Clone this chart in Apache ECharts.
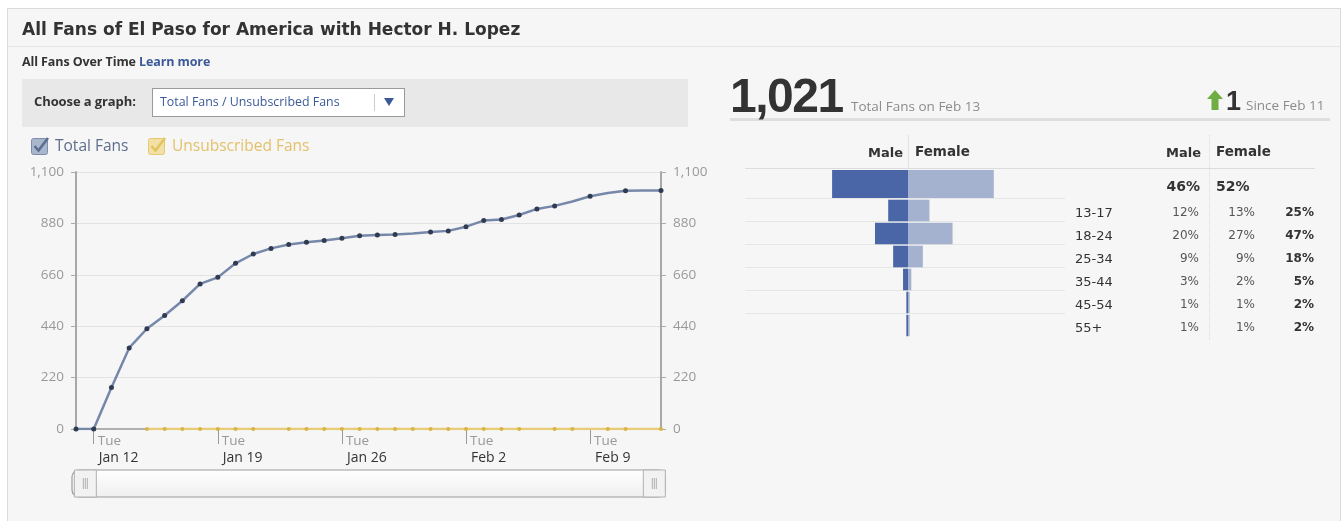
<!DOCTYPE html>
<html>
<head>
<meta charset="utf-8">
<script src="https://cdn.jsdelivr.net/npm/echarts@6/dist/echarts.min.js"></script>
<style>
  html, body { margin: 0; padding: 0; background: #fff; }
  body { width: 1343px; height: 521px; position: relative; overflow: hidden; font-family: "Open Sans", sans-serif; }
  .panel { position: absolute; left: 7px; top: 8px; width: 1334px; height: 520px; background: #f6f6f6; border: 1px solid #dadada; box-sizing: border-box; }
  .t { position: absolute; white-space: nowrap; transform: translateY(-50%); line-height: 1; z-index: 3; }
  .r { transform: translate(-100%, -50%); }
  #chart { position: absolute; left: 0; top: 0; width: 1343px; height: 521px; z-index: 2; }
  .line { position: absolute; z-index: 1; }
</style>
</head>
<body>
<div class="panel"></div>
<div class="line" style="left:8px;top:46px;width:1333px;height:1px;background:#e4e4e4"></div>

<div class="t" style="left:22px;top:29px;font-family:'DejaVu Sans';font-weight:bold;font-size:17px;color:#333">All Fans of El Paso for America with Hector H. Lopez</div>
<div class="t" style="left:22px;top:62px;font-weight:bold;font-size:12.5px;letter-spacing:-0.1px;color:#333">All Fans Over Time <span style="color:#3b5998">Learn more</span></div>

<div class="line" style="left:22px;top:79px;width:666px;height:48px;background:#e8e8e8"></div>
<div class="t" style="left:34px;top:101px;font-weight:bold;font-size:13px;letter-spacing:-0.1px;color:#333">Choose a graph:</div>
<div class="line" style="left:152px;top:88px;width:253px;height:29px;background:#fff;border:1px solid #9a9a9a;box-sizing:border-box;z-index:2"></div>
<div class="t" style="left:160px;top:102px;font-size:12.4px;color:#3b5998">Total Fans / Unsubscribed Fans</div>
<div class="line" style="left:374px;top:94px;width:1px;height:17px;background:#ccc;z-index:3"></div>
<svg style="position:absolute;left:384px;top:98px;z-index:3" width="10" height="9"><path d="M0,0 L10,0 L5,8 Z" fill="#3b5998"/></svg>

<svg style="position:absolute;left:31px;top:136px;z-index:3" width="20" height="20">
  <rect x="0.5" y="2.5" width="16" height="16" rx="2" fill="#aab6cc" stroke="#7d8dab"/>
  <path d="M3.5,10 L7.5,14.5 L17,2" fill="none" stroke="#5b6d8f" stroke-width="2.6"/>
</svg>
<div class="t" style="left:55px;top:146px;font-size:15.5px;color:#5e6e8c">Total Fans</div>
<svg style="position:absolute;left:148px;top:136px;z-index:3" width="20" height="20">
  <rect x="0.5" y="2.5" width="16" height="16" rx="2" fill="#f2e0a6" stroke="#e4c970"/>
  <path d="M3.5,10 L7.5,14.5 L17,2" fill="none" stroke="#e2c35f" stroke-width="2.6"/>
</svg>
<div class="t" style="left:172px;top:146px;font-size:15.5px;color:#e2c168">Unsubscribed Fans</div>

<div class="t" style="left:730px;top:96px;font-family:'Liberation Sans';font-weight:bold;font-size:48px;letter-spacing:-1.5px;color:#333">1,021</div>
<div class="t" style="left:851px;top:107px;font-size:13.5px;color:#8c8c8c">Total Fans on Feb 13</div>
<svg style="position:absolute;left:1207px;top:90px;z-index:3" width="16" height="21"><path d="M8,0 L16,9 L11.5,9 L11.5,20 L4.5,20 L4.5,9 L0,9 Z" fill="#6fae42"/></svg>
<div class="t" style="left:1226px;top:101px;font-family:'Liberation Sans';font-weight:bold;font-size:27px;color:#333">1</div>
<div class="t" style="left:1246px;top:106px;font-size:13.5px;color:#8c8c8c">Since Feb 11</div>
<div class="line" style="left:730px;top:118px;width:600px;height:3px;background:#dedede"></div>

<div class="t r" style="left:903px;top:152px;font-family:'DejaVu Sans';font-weight:bold;font-size:13px;color:#333">Male</div>
<div class="t" style="left:915px;top:152px;font-family:'DejaVu Sans';font-weight:bold;font-size:13.5px;color:#333">Female</div>
<div class="t r" style="left:1201px;top:152px;font-family:'DejaVu Sans';font-weight:bold;font-size:13px;color:#333">Male</div>
<div class="t" style="left:1216px;top:152px;font-family:'DejaVu Sans';font-weight:bold;font-size:13.5px;color:#333">Female</div>
<div class="line" style="left:908px;top:135px;width:1px;height:33px;background:#e2e2e2"></div>
<div class="line" style="left:1209px;top:135px;width:0;height:205px;border-left:1px dotted #dcdcdc"></div>
<div class="line" style="left:745px;top:168px;width:570px;height:1px;background:#dcdcdc"></div>
<div id="rowlines"></div>
<div id="table"></div>

<div id="chart"></div>
<script>
// line chart data (one point per day)
var dates = ['Jan 11', 'Jan 12', 'Jan 13', 'Jan 14', 'Jan 15', 'Jan 16', 'Jan 17', 'Jan 18', 'Jan 19', 'Jan 20',
  'Jan 21', 'Jan 22', 'Jan 23', 'Jan 24', 'Jan 25', 'Jan 26', 'Jan 27', 'Jan 28', 'Jan 29', 'Jan 30',
  'Jan 31', 'Feb 1', 'Feb 2', 'Feb 3', 'Feb 4', 'Feb 5', 'Feb 6', 'Feb 7', 'Feb 8', 'Feb 9',
  'Feb 10', 'Feb 11', 'Feb 12', 'Feb 13'];
var totalFans = [0, 0, 178, 347, 429, 486, 549, 621, 649, 709,
  749, 773, 790, 799, 807, 816, 827, 830, 832, 837,
  843, 848, 866, 892, 897, 916, 942, 955, 974, 996,
  1010, 1020, 1021, 1021];
var unsubscribedFans = [null, null, null, null, 0, 0, 0, 0, 0, 0,
  0, 0, 0, 0, 0, 0, 0, 0, 0, 0,
  0, 0, 0, 0, 0, 0, 0, 0, 0, 0,
  0, 0, 0, 0];
// days drawn without a dot in the picture
var totalNoDot = ['Jan 30', 'Feb 8', 'Feb 10', 'Feb 12'];
var unsubNoDot = ['Jan 22', 'Feb 6', 'Feb 9', 'Feb 12'];
var tickDates = ['Jan 12', 'Jan 19', 'Jan 26', 'Feb 2', 'Feb 9'];

// demographics
var ageGroups = ['13-17', '18-24', '25-34', '35-44', '45-54', '55+'];
var allMale = 46;
var allFemale = 52;
var malePct = [12, 20, 9, 3, 1, 1];
var femalePct = [13, 27, 9, 2, 1, 1];
var totalPct = [25, 47, 18, 5, 2, 2];

var days = ['Sun', 'Mon', 'Tue', 'Wed', 'Thu', 'Fri', 'Sat'];
function isTick(idx, value) {
  return tickDates.indexOf(value !== undefined ? value : dates[idx]) >= 0;
}
function withDots(values, noDot) {
  return values.map(function (v, i) {
    return noDot.indexOf(dates[i]) >= 0 ? { value: v, symbol: 'none' } : v;
  });
}

// table text and row lines
var tableHtml = '';
var lineHtml = '';
var cell = 'position:absolute;white-space:nowrap;line-height:1;z-index:3;font-family:DejaVu Sans;';
tableHtml += '<div style="' + cell + 'left:1200px;top:186px;transform:translate(-100%,-50%);font-weight:bold;font-size:14px;color:#333">' + allMale + '%</div>';
tableHtml += '<div style="' + cell + 'left:1216px;top:186px;transform:translateY(-50%);font-weight:bold;font-size:14px;color:#333">' + allFemale + '%</div>';
ageGroups.forEach(function (g, i) {
  var y = 199 + 23 * i + 12.5;
  tableHtml += '<div style="' + cell + 'left:1075px;top:' + y + 'px;transform:translateY(-50%);font-size:13px;color:#333">' + g + '</div>';
  tableHtml += '<div style="' + cell + 'left:1199px;top:' + y + 'px;transform:translate(-100%,-50%);font-size:12px;color:#555">' + malePct[i] + '%</div>';
  tableHtml += '<div style="' + cell + 'left:1255px;top:' + y + 'px;transform:translate(-100%,-50%);font-size:12px;color:#555">' + femalePct[i] + '%</div>';
  tableHtml += '<div style="' + cell + 'left:1314px;top:' + y + 'px;transform:translate(-100%,-50%);font-weight:bold;font-size:12px;color:#333">' + totalPct[i] + '%</div>';
  lineHtml += '<div class="line" style="left:745px;top:' + (199 + 23 * i - 1) + 'px;width:320px;height:1px;background:#e6e6e6"></div>';
});
document.getElementById('table').innerHTML = tableHtml;
document.getElementById('rowlines').innerHTML = lineHtml;

var myChart = echarts.init(document.getElementById('chart'));

var yAxisBase = {
  gridIndex: 0,
  type: 'value',
  min: 0,
  max: 1100,
  interval: 220,
  axisLine: { show: true, lineStyle: { color: '#a8a8a8', width: 2 } },
  axisTick: { show: true, length: 5, lineStyle: { color: '#aaa' } },
  axisLabel: {
    color: '#999', fontSize: 13.5, fontFamily: 'Open Sans', margin: 12,
    formatter: function (v) { return v.toLocaleString('en-US'); }
  }
};

var option = {
  animation: false,
  backgroundColor: 'transparent',
  grid: [
    { left: 76, top: 172, width: 585, height: 257 },
    { left: 809, top: 170, width: 198, height: 28 },
    { left: 809, top: 199, width: 198, height: 138 }
  ],
  xAxis: [
    {
      gridIndex: 0,
      type: 'category',
      data: dates,
      boundaryGap: false,
      axisLine: { lineStyle: { color: '#b0b0b0', width: 2 } },
      axisTick: { interval: isTick, length: 15, lineStyle: { color: '#999' } },
      axisLabel: {
        interval: isTick,
        align: 'left',
        margin: 4,
        formatter: function (v) {
          var d = new Date(v + ', 2010');
          return '{a|' + days[d.getDay()] + '}\n{b|' + v + '}';
        },
        rich: {
          a: { color: '#999', fontSize: 13.5, fontFamily: 'Open Sans', lineHeight: 16, padding: [0, 0, 0, 4] },
          b: { color: '#333', fontSize: 14, fontFamily: 'Open Sans', lineHeight: 18, padding: [0, 0, 0, 5] }
        }
      },
      splitLine: { show: false }
    },
    { gridIndex: 1, type: 'value', min: -60, max: 60, show: false },
    { gridIndex: 2, type: 'value', min: -60, max: 60, show: false }
  ],
  yAxis: [
    Object.assign({}, yAxisBase, {
      position: 'left',
      splitLine: { show: true, lineStyle: { color: '#e2e2e2' } }
    }),
    Object.assign({}, yAxisBase, {
      position: 'right',
      splitLine: { show: false }
    }),
    { gridIndex: 1, type: 'category', data: ['All'], show: false },
    { gridIndex: 2, type: 'category', data: ageGroups, inverse: true, show: false }
  ],
  dataZoom: [{
    type: 'slider',
    xAxisIndex: 0,
    filterMode: 'none',
    start: 0,
    end: 100,
    left: 83,
    width: 571,
    top: 470,
    height: 27,
    z: 10,
    showDetail: false,
    showDataShadow: false,
    brushSelect: false,
    moveHandleSize: 0,
    backgroundColor: 'rgba(0,0,0,0)',
    borderColor: 'rgba(0,0,0,0)',
    fillerColor: 'rgba(0,0,0,0)',
    handleIcon: 'path://M0,0H22V27H0Z M9,8V19 M11,8V19 M13,8V19',
    handleSize: '100%',
    handleStyle: { color: '#f2f2f2', borderColor: '#b0b0b0', borderWidth: 1 },
    emphasis: { handleStyle: { color: '#f2f2f2', borderColor: '#b0b0b0' } },
    dataBackground: { lineStyle: { opacity: 0 }, areaStyle: { opacity: 0 } },
    selectedDataBackground: { lineStyle: { opacity: 0 }, areaStyle: { opacity: 0 } }
  }],
  graphic: [{
    type: 'rect',
    z: 1,
    shape: { x: 72, y: 470, width: 593, height: 27, r: 7 },
    style: {
      fill: new echarts.graphic.LinearGradient(0, 0, 0, 1, [
        { offset: 0, color: '#ffffff' }, { offset: 1, color: '#efefef' }
      ]),
      stroke: '#9c9c9c',
      lineWidth: 1.2
    }
  }],
  series: [
    {
      name: 'Unsubscribed Fans',
      type: 'line',
      xAxisIndex: 0,
      yAxisIndex: 0,
      data: withDots(unsubscribedFans, unsubNoDot),
      symbol: 'circle',
      symbolSize: 4,
      lineStyle: { color: '#e9cc7a', width: 2.5 },
      itemStyle: { color: '#d9b548' },
      z: 3
    },
    {
      name: 'Total Fans',
      type: 'line',
      xAxisIndex: 0,
      yAxisIndex: 0,
      data: withDots(totalFans, totalNoDot),
      symbol: 'circle',
      symbolSize: 5,
      lineStyle: { color: '#7688aa', width: 2.5 },
      itemStyle: { color: '#303b52' },
      z: 4
    },
    {
      name: 'Male', type: 'bar', xAxisIndex: 1, yAxisIndex: 2, stack: 'all',
      barWidth: '100%', data: [-allMale], itemStyle: { color: '#4a66a6' }
    },
    {
      name: 'Female', type: 'bar', xAxisIndex: 1, yAxisIndex: 2, stack: 'all',
      barWidth: '100%', data: [allFemale], itemStyle: { color: '#a4b2d0' }
    },
    {
      name: 'Male', type: 'bar', xAxisIndex: 2, yAxisIndex: 3, stack: 'age',
      barCategoryGap: '6%', data: malePct.map(function (v) { return -v; }),
      itemStyle: { color: '#4a66a6' }
    },
    {
      name: 'Female', type: 'bar', xAxisIndex: 2, yAxisIndex: 3, stack: 'age',
      barCategoryGap: '6%', data: femalePct, itemStyle: { color: '#a4b2d0' }
    }
  ]
};

myChart.setOption(option);
</script>
</body>
</html>
